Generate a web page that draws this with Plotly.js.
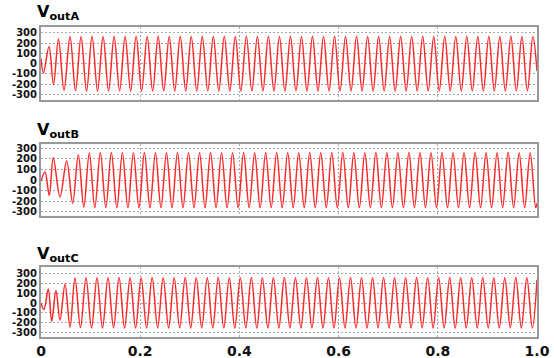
<!DOCTYPE html>
<html>
<head>
<meta charset="utf-8">
<script src="https://cdn.plot.ly/plotly-3.0.1.min.js"></script>
<style>html,body{margin:0;padding:0;background:#fff;}#chart{width:554px;height:358px;}</style>
</head>
<body>
<div id="chart"></div>
<script>
// ---- data ----
// x tick labels
var xTickVals = [0, 0.2, 0.4, 0.6, 0.8, 1.0];
var xTickText = ["0", "0.2", "0.4", "0.6", "0.8", "1.0"];
var yTickVals = [-300, -200, -100, 0, 100, 200, 300];
var yTickText = ["-300", "-200", "-100", "0", "100", "200", "300"];
var panelNames = ["outA", "outB", "outC"];

// start-up transient: extremum times (s) and values (V)
var transA_t = [0, 0.0050, 0.0161, 0.0252, 0.0353, 0.0464];
var transA_v = [50, -90, 165, -200, 238, -258];
var transB_t = [0, 0.0081, 0.0167, 0.0248, 0.0383, 0.0518, 0.0639];
var transB_v = [-10, 75, -145, 210, -160, 180, -220];
var transC_t = [0, 0.0060, 0.0147, 0.0216, 0.0302, 0.0383, 0.0484, 0.0585];
var transC_v = [0, -65, 145, -185, 130, -175, 195, -245];

// steady state: time of first steady peak, half period, successive extrema
var steadyStart = [0.0585, 0.0752, 0.0685];
var halfPeriod = 0.01111;
var steadyA_v = [262,-262,264,-266,265,-265,264,-266,265,-264,
                 263,-265,266,-265,264,-266,265,-264,263,-265,
                 266,-265,264,-266,265,-264,263,-265,266,-265,
                 264,-266,265,-264,263,-265,266,-265,264,-266,
                 265,-264,263,-265,266,-265,264,-266,265,-264,
                 263,-265,266,-265,264,-266,265,-264,263,-265,
                 266,-265,264,-266,265,-264,263,-265,266,-265,
                 264,-266,265,-264,263,-265,266,-265,264,-266,
                 265,-264,263,-265,264];
var steadyB_v = [240,-255,255,-262,258,-262,260,-264,259,-262,
                 258,-262,260,-263,259,-262,258,-262,260,-263,
                 259,-262,258,-262,260,-263,259,-262,258,-262,
                 260,-263,259,-262,258,-262,260,-263,259,-262,
                 258,-262,260,-263,259,-262,258,-262,260,-263,
                 259,-262,258,-262,260,-263,259,-262,258,-262,
                 260,-263,259,-262,258,-262,260,-263,259,-262,
                 258,-262,260,-263,259,-262,258,-262,260,-263,
                 259,-262,258,-262];
var steadyC_v = [258,-252,260,-255,261,-256,260,-255,262,-256,
                 261,-255,260,-256,262,-255,261,-256,260,-255,
                 262,-256,261,-255,260,-256,262,-255,261,-256,
                 260,-255,262,-256,261,-255,260,-256,262,-255,
                 261,-256,260,-255,262,-256,261,-255,260,-256,
                 262,-255,261,-256,260,-255,262,-256,261,-255,
                 260,-256,262,-255,261,-256,260,-255,262,-256,
                 261,-255,260,-256,262,-255,261,-256,260,-255,
                 262,-256,261,-256];
// value at t = 1.0 s
var endT = 1.0;
var endV = [-70, -220, 240];

// ---- build traces ----
function build(tt, tv, start, sv, ev) {
  var x = tt.slice(), y = tv.slice();
  for (var k = 0; k < sv.length; k++) { x.push(start + k * halfPeriod); y.push(sv[k]); }
  x.push(endT); y.push(ev);
  return {x: x, y: y};
}
var sets = [
  build(transA_t, transA_v, steadyStart[0], steadyA_v, endV[0]),
  build(transB_t, transB_v, steadyStart[1], steadyB_v, endV[1]),
  build(transC_t, transC_v, steadyStart[2], steadyC_v, endV[2])
];

var H = 358;
var doms = [[1 - 100/H, 1 - 27/H], [1 - 215.7/H, 1 - 144/H], [1 - 336.7/H, 1 - 267.3/H]];
var ranges = [[-352, 355], [-338, 341], [-345, 368]];
var titleY = [1 - 12.5/H, 1 - 130/H, 1 - 254/H];

var traces = [];
var layout = {
  width: 554, height: 358,
  margin: {l: 41, r: 17, t: 0, b: 0},
  paper_bgcolor: '#fff', plot_bgcolor: '#fff',
  showlegend: false,
  font: {family: 'DejaVu Sans', color: '#111'},
  annotations: []
};
for (var i = 0; i < 3; i++) {
  var sfx = i === 0 ? '' : String(i + 1);
  traces.push({
    x: sets[i].x, y: sets[i].y, type: 'scatter', mode: 'lines',
    xaxis: 'x' + sfx, yaxis: 'y' + sfx,
    line: {color: 'rgba(255,20,20,0.9)', width: 1.5, shape: 'spline', smoothing: 1},
    hoverinfo: 'skip'
  });
  layout['xaxis' + sfx] = {
    domain: [0, 1], anchor: 'y' + sfx, range: [0, 1],
    tickvals: xTickVals, ticktext: xTickText,
    showticklabels: i === 2, ticks: '',
    tickfont: {family: 'DejaVu Sans', size: 14, color: '#111', weight: 'bold'},
    showgrid: true, gridcolor: '#aaa', gridwidth: 1, griddash: '2px,2px',
    showline: true, mirror: true, linecolor: '#999', linewidth: 2,
    zeroline: false
  };
  layout['yaxis' + sfx] = {
    domain: doms[i], anchor: 'x' + sfx, range: ranges[i],
    tickvals: yTickVals, ticktext: yTickText, ticks: '',
    tickfont: {family: 'DejaVu Sans', size: 10, color: '#111', weight: 'bold'},
    showgrid: true, gridcolor: '#aaa', gridwidth: 1, griddash: '2px,2px',
    showline: true, mirror: true, linecolor: '#999', linewidth: 2,
    zeroline: false
  };
  layout.annotations.push({
    xref: 'paper', yref: 'paper', x: -0.012, y: titleY[i],
    xanchor: 'left', yanchor: 'middle', showarrow: false,
    text: '<b>V</b><sub><b>' + panelNames[i] + '</b></sub>',
    font: {family: 'DejaVu Sans', size: 16, color: '#000'}
  });
}
Plotly.newPlot('chart', traces, layout, {staticPlot: true, displayModeBar: false});
</script>
</body>
</html>
